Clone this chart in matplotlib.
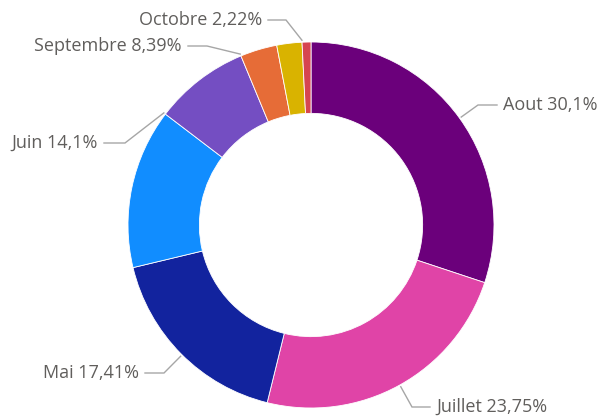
import numpy as np
import matplotlib
matplotlib.use("Agg")
import matplotlib.pyplot as plt

# ---- data (clockwise from 12 o'clock, sorted descending) ----
months = ["Aout", "Juillet", "Mai", "Juin", "Septembre", "Avril", "Octobre", "Novembre"]
shares = [30.10, 23.75, 17.41, 14.10, 8.39, 3.25, 2.22, 0.78]
label_texts = ["Aout 30,1%", "Juillet 23,75%", "Mai 17,41%", "Juin 14,1%",
               "Septembre 8,39%", None, "Octobre 2,22%", None]
colors = ["#6B007B", "#E044A7", "#12239E", "#118DFF", "#744EC2",
          "#E66C37", "#D9B300", "#D64550"]

# ---- layout (pixels, y measured from top) ----
W, H = 601, 416
cx, cy_top, R = 311, 225, 183
ring = 0.39
# elbow point and text position per labelled slice: (elbow_x, elbow_y, text_x, side)
label_layout = {
    "Aout": (478, 105, 503, "left"),
    "Juillet": (412, 407, 436, "left"),
    "Mai": (164, 373, 139, "right"),
    "Juin": (125, 143, 98, "right"),
    "Septembre": (207, 46, 182, "right"),
    "Octobre": (286, 20, 262, "right"),
}

plt.rcParams["font.family"] = ["Open Sans", "DejaVu Sans"]
fig = plt.figure(figsize=(W / 100, H / 100), dpi=100)
ax = fig.add_axes([0, 0, 1, 1])
cy = H - cy_top

wedges, _ = ax.pie(shares, colors=colors, startangle=90, counterclock=False,
                   radius=R, center=(cx, cy),
                   wedgeprops=dict(width=R * ring, edgecolor="white", linewidth=0.6))
ax.set_xlim(0, W)
ax.set_ylim(0, H)
ax.set_aspect("equal")
ax.axis("off")

line_col = "#A6A6A6"
text_col = "#605E5C"
for w, m, lt in zip(wedges, months, label_texts):
    if lt is None or m not in label_layout:
        continue
    ex, ey, tx, side = label_layout[m]
    ey_d = H - ey
    # anchor angle: direction of elbow, clamped into the wedge's angular span
    a_elbow = np.degrees(np.arctan2(ey_d - cy, ex - cx))
    t1, t2 = w.theta1, w.theta2
    lo, hi = min(t1, t2), max(t1, t2)
    a = a_elbow
    while a < lo:
        a += 360
    while a > hi + 360:
        a -= 360
    if a > hi:
        d_lo = (lo - (a - 360))
        d_hi = a - hi
        a = hi if d_hi < d_lo else lo
    ar = np.radians(a)
    axp = cx + (R + 2) * np.cos(ar)
    ayp = cy + (R + 2) * np.sin(ar)
    hx = tx + (-6 if side == "left" else 6)
    ax.plot([axp, ex, hx], [ayp, ey_d, ey_d], color=line_col, lw=1.0,
            solid_joinstyle="miter")
    ax.text(tx, ey_d, lt, ha=side, va="center", fontsize=13, color=text_col)

fig.savefig("out.png", dpi=100, facecolor="white")
